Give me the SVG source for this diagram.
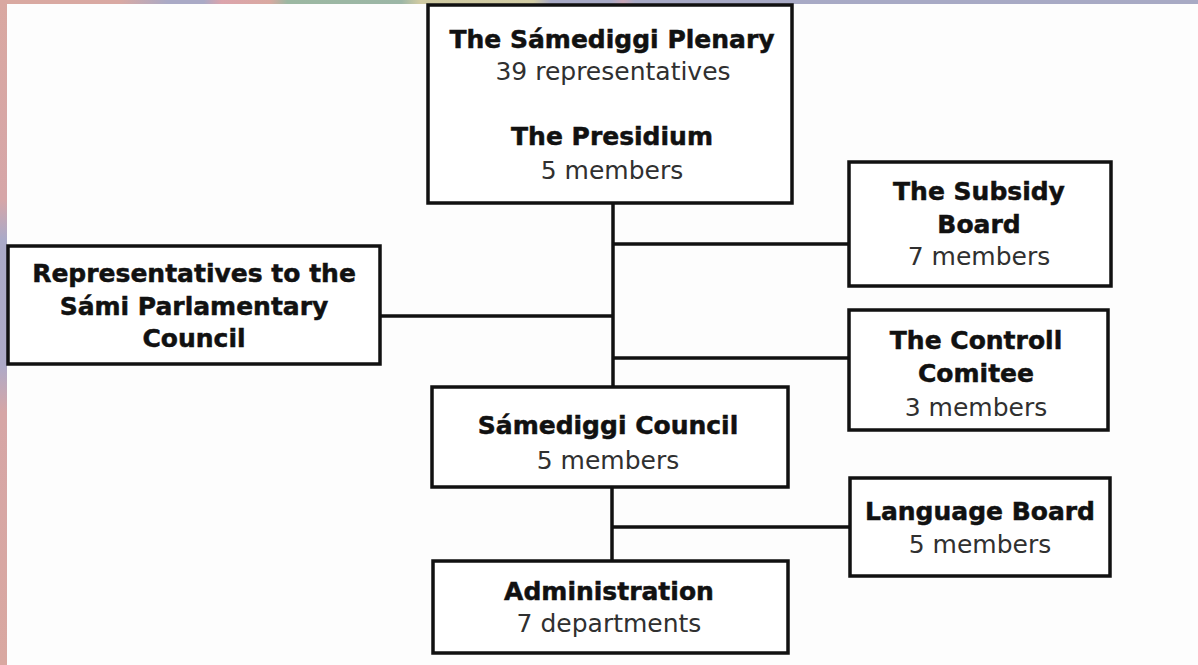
<svg xmlns="http://www.w3.org/2000/svg" width="1198" height="665" viewBox="0 0 1198 665">
<defs>
<linearGradient id="topband" x1="0" y1="0" x2="1" y2="0">
<stop offset="0" stop-color="#d9a9a1"/>
<stop offset="0.10" stop-color="#d9a9a3"/>
<stop offset="0.14" stop-color="#aaaac6"/>
<stop offset="0.17" stop-color="#aaaac6"/>
<stop offset="0.185" stop-color="#dca4ac"/>
<stop offset="0.225" stop-color="#d9a9a1"/>
<stop offset="0.24" stop-color="#9cb8a2"/>
<stop offset="0.335" stop-color="#9cb6a6"/>
<stop offset="0.35" stop-color="#cfcaa2"/>
<stop offset="0.445" stop-color="#d2cca4"/>
<stop offset="0.46" stop-color="#a8aac6"/>
<stop offset="0.51" stop-color="#a8aac6"/>
<stop offset="0.52" stop-color="#c9a6b6"/>
<stop offset="0.53" stop-color="#a8aac6"/>
<stop offset="1" stop-color="#a8aac4"/>
</linearGradient>
<linearGradient id="leftband" x1="0" y1="0" x2="0" y2="1">
<stop offset="0" stop-color="#d9a8a1"/>
<stop offset="0.30" stop-color="#d6a6a8"/>
<stop offset="0.36" stop-color="#aaaac8"/>
<stop offset="0.55" stop-color="#aeaac8"/>
<stop offset="0.62" stop-color="#d6a6a6"/>
<stop offset="1" stop-color="#d9a8a1"/>
</linearGradient>
<style>
.box{fill:#ffffff;stroke:#111111;stroke-width:3.5}
.conn{stroke:#111111;stroke-width:3.5;fill:none}
text{font-family:"DejaVu Sans","Verdana",sans-serif;font-size:25px;text-anchor:middle}
.b{font-weight:bold;fill:#111111;stroke:#111111;stroke-width:0.5}
.r{fill:#303030}
</style>
</defs>
<rect x="0" y="0" width="1198" height="665" fill="#fdfdfd"/>
<rect x="0" y="0" width="1198" height="4" fill="url(#topband)"/>
<rect x="0" y="0" width="7" height="665" fill="url(#leftband)"/>

<g id="connectors">
<line class="conn" x1="613" y1="203" x2="613" y2="387"/>
<line class="conn" x1="613" y1="244" x2="850" y2="244"/>
<line class="conn" x1="380" y1="316" x2="613" y2="316"/>
<line class="conn" x1="613" y1="358" x2="850" y2="358"/>
<line class="conn" x1="612" y1="487" x2="612" y2="561"/>
<line class="conn" x1="612" y1="527" x2="850" y2="527"/>
</g>

<g id="plenary">
<rect class="box" x="428" y="5" width="364" height="198"/>
<text class="b" x="612" y="48">The Sámediggi Plenary</text>
<text class="r" x="613" y="80">39 representatives</text>
<text class="b" x="612" y="145">The Presidium</text>
<text class="r" x="612" y="179">5 members</text>
</g>

<g id="subsidy">
<rect class="box" x="849" y="162" width="262" height="124"/>
<text class="b" x="979" y="200">The Subsidy</text>
<text class="b" x="979" y="233">Board</text>
<text class="r" x="979" y="265">7 members</text>
</g>

<g id="representatives">
<rect class="box" x="8" y="246" width="372" height="118"/>
<text class="b" x="194" y="282">Representatives to the</text>
<text class="b" x="194" y="315">Sámi Parlamentary</text>
<text class="b" x="194" y="347">Council</text>
</g>

<g id="controll">
<rect class="box" x="849" y="310" width="259" height="120"/>
<text class="b" x="976" y="349">The Controll</text>
<text class="b" x="976" y="382">Comitee</text>
<text class="r" x="976" y="416">3 members</text>
</g>

<g id="council">
<rect class="box" x="432" y="387" width="356" height="100"/>
<text class="b" x="608" y="434">Sámediggi Council</text>
<text class="r" x="608" y="469">5 members</text>
</g>

<g id="language">
<rect class="box" x="850" y="478" width="260" height="98"/>
<text class="b" x="980" y="520">Language Board</text>
<text class="r" x="980" y="553">5 members</text>
</g>

<g id="administration">
<rect class="box" x="433" y="561" width="355" height="92"/>
<text class="b" x="609" y="600">Administration</text>
<text class="r" x="609" y="632">7 departments</text>
</g>
</svg>
